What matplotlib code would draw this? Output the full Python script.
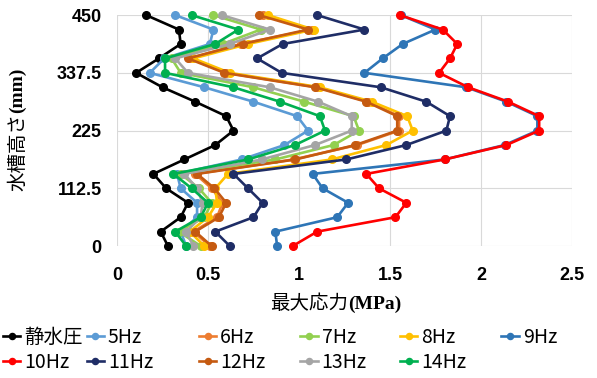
import matplotlib.pyplot as plt

# measurement heights (mm)
heights = [0, 28.125, 56.25, 84.375, 112.5, 140.625, 168.75, 196.875, 225,
           253.125, 281.25, 309.375, 337.5, 365.625, 393.75, 421.875, 450]

# max stress (MPa), bottom to top
static = [0.28, 0.24, 0.35, 0.39, 0.27, 0.20, 0.37, 0.54, 0.64, 0.60, 0.43, 0.25, 0.105, 0.23, 0.35, 0.34, 0.16]
hz5 = [0.38, 0.35, 0.44, 0.44, 0.35, 0.33, 0.685, 0.92, 1.05, 0.99, 0.75, 0.48, 0.18, 0.26, 0.51, 0.53, 0.32]
hz6 = [0.51, 0.42, 0.55, 0.58, 0.52, 0.43, 0.97, 1.32, 1.55, 1.55, 1.38, 1.10, 0.60, 0.40, 0.68, 1.07, 0.80]
hz7 = [0.46, 0.34, 0.48, 0.52, 0.45, 0.35, 0.87, 1.19, 1.33, 1.30, 1.03, 0.75, 0.35, 0.30, 0.58, 0.79, 0.53]
hz8 = [0.48, 0.40, 0.50, 0.55, 0.54, 0.61, 1.18, 1.48, 1.625, 1.595, 1.40, 1.115, 0.62, 0.42, 0.72, 1.08, 0.83]
hz9 = [0.88, 0.87, 1.21, 1.27, 1.13, 1.075, 1.80, 2.13, 2.31, 2.31, 2.14, 1.92, 1.36, 1.46, 1.57, 1.75, 1.56]
hz10 = [0.965, 1.10, 1.53, 1.59, 1.44, 1.37, 1.80, 2.14, 2.32, 2.32, 2.15, 1.93, 1.77, 1.83, 1.87, 1.79, 1.555]
hz11 = [0.62, 0.54, 0.75, 0.80, 0.72, 0.64, 1.26, 1.59, 1.81, 1.83, 1.70, 1.45, 0.905, 0.77, 0.91, 1.36, 1.10]
hz12 = [0.52, 0.43, 0.56, 0.60, 0.535, 0.44, 0.98, 1.31, 1.54, 1.54, 1.37, 1.09, 0.59, 0.39, 0.69, 1.05, 0.78]
hz13 = [0.42, 0.38, 0.46, 0.47, 0.44, 0.37, 0.795, 1.088, 1.29, 1.29, 1.106, 0.84, 0.39, 0.32, 0.62, 0.84, 0.575]
hz14 = [0.38, 0.32, 0.46, 0.50, 0.41, 0.31, 0.72, 0.978, 1.143, 1.115, 0.896, 0.64, 0.264, 0.264, 0.54, 0.667, 0.41]

labels = ['静水圧', '5Hz', '6Hz', '7Hz', '8Hz', '9Hz', '10Hz', '11Hz', '12Hz', '13Hz', '14Hz']
series = [static, hz5, hz6, hz7, hz8, hz9, hz10, hz11, hz12, hz13, hz14]
colors = ['#000000', '#5B9BD5', '#ED7D31', '#92D050', '#FFC000', '#2E75B6',
          '#FF0000', '#1F2D66', '#C55A11', '#A5A5A5', '#00B050']

xticks = [0, 0.5, 1, 1.5, 2, 2.5]
xticklabels = ['0', '0.5', '1', '1.5', '2', '2.5']
yticks = [0, 112.5, 225, 337.5, 450]
yticklabels = ['0', '112.5', '225', '337.5', '450']

fig = plt.figure(figsize=(5.97, 3.78), dpi=100)
ax = fig.add_axes([0.196, 0.349, 0.762, 0.611])

lines = []
for vals, lab, c in zip(series, labels, colors):
    ln, = ax.plot(vals, heights, color=c, lw=1.9, marker='o', markersize=5.5,
                  label=lab, clip_on=False)
    lines.append(ln)

ax.set_xlim(0, 2.5)
ax.set_ylim(0, 450)
ax.set_xticks(xticks)
ax.set_xticklabels(xticklabels, fontfamily='Liberation Sans', fontweight='bold', fontsize=13)
ax.set_yticks(yticks)
ax.set_yticklabels(yticklabels, fontfamily='Liberation Sans', fontweight='bold', fontsize=13)
ax.tick_params(length=0)
ax.tick_params(axis='x', pad=15)
ax.tick_params(axis='y', pad=11)
ax.grid(color='#D9D9D9', lw=0.8)
ax.set_axisbelow(True)
for s in ax.spines.values():
    s.set_visible(False)

# axis titles: japanese part regular, unit part bold serif
fig.text(0.583, 0.196, '最大応力', ha='right', va='center', fontsize=14,
         fontfamily='Noto Sans CJK JP')
fig.text(0.583, 0.196, '(MPa)', ha='left', va='center', fontsize=14,
         fontfamily='Liberation Serif', fontweight='bold')
fig.text(0.030, 0.700, '水槽高さ', ha='center', va='top', rotation=90, fontsize=14,
         fontfamily='Noto Sans CJK JP')
fig.text(0.030, 0.700, '(mm)', ha='center', va='bottom', rotation=90, fontsize=14,
         fontfamily='Liberation Serif', fontweight='bold')

# legend: one small two-row legend per column so the columns sit where they do in the original
col_x = [0.005, 0.145, 0.333, 0.503, 0.670, 0.840]
for j, x in enumerate(col_x):
    idx = [j] if j + 6 >= len(labels) else [j, j + 6]
    fig.legend([lines[i] for i in idx], [labels[i] for i in idx],
               loc='upper left', bbox_to_anchor=(x, 0.135), frameon=False,
               prop={'family': 'Noto Sans CJK JP', 'size': 14},
               handlelength=0.9, handletextpad=0.2, borderpad=0,
               borderaxespad=0, labelspacing=0.2, markerscale=0.8)

plt.savefig('out.png', dpi=100)
